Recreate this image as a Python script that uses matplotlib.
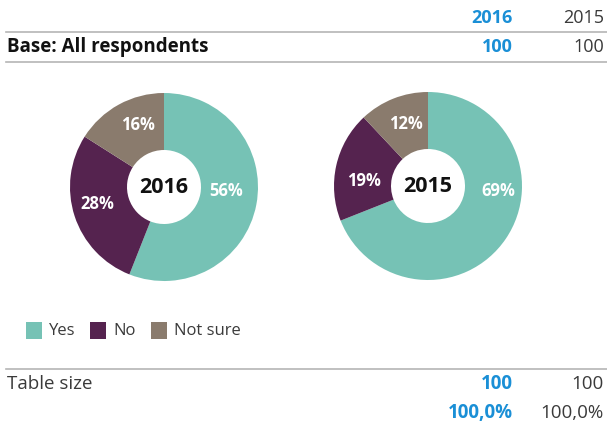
import matplotlib.pyplot as plt

years = ['2016', '2015']
categories = ['Yes', 'No', 'Not sure']
shares_2016 = [56, 28, 16]
shares_2015 = [69, 19, 12]
base_counts = [100, 100]
table_sizes = [100, 100]
table_pcts = ['100,0%', '100,0%']

colors = ['#76c2b5', '#55234f', '#8a7b6d']
blue = '#1a8fd6'
grey_line = '#b5b5b5'
dark = '#3a3a3a'

# label offsets (px) from each donut centre
label_offsets = [
    [(62, 4), (-67, 17), (-26, -62)],
    [(70, 5), (-64, -5), (-22, -62)],
]

W, H = 607, 423
plt.rcParams['font.family'] = ['Open Sans', 'DejaVu Sans']

fig = plt.figure(figsize=(W / 100, H / 100), dpi=100)
ax = fig.add_axes([0, 0, 1, 1])


def Y(y):
    # pixel rows counted from the top
    return H - y


col_x = [513, 604]

# donuts
centers = [(164, 187), (428, 186)]
radius = 94
for (cx, cy), yr, vals, offs in zip(centers, years, [shares_2016, shares_2015], label_offsets):
    ax.pie(vals, colors=colors, startangle=90, counterclock=False,
           center=(cx, Y(cy)), radius=radius, frame=True,
           wedgeprops=dict(width=radius - 37, linewidth=0))
    for v, (dx, dy) in zip(vals, offs):
        ax.text(cx + dx, Y(cy + dy), f'{v}%', ha='center', va='center',
                fontsize=12, color='white', fontweight='bold')
    ax.text(cx, Y(cy), yr, ha='center', va='center', fontsize=15.5, fontweight='bold', color='#111111')

ax.set_xlim(0, W)
ax.set_ylim(0, H)
ax.set_aspect('equal')
ax.axis('off')

# header rows
for i, yr in enumerate(years):
    c = blue if i == 0 else dark
    fw = 'bold' if i == 0 else 'normal'
    ax.text(col_x[i], Y(18), yr, ha='right', va='center', fontsize=13, color=c, fontweight=fw)
    ax.text(col_x[i], Y(47), str(base_counts[i]), ha='right', va='center', fontsize=13, color=c, fontweight=fw)
ax.plot([6, W], [Y(32), Y(32)], color=grey_line, lw=1.2)
ax.text(7, Y(47), 'Base: All respondents', ha='left', va='center', fontsize=13.5, fontweight='bold', color='#111111')
ax.plot([6, W], [Y(62), Y(62)], color=grey_line, lw=1.2)

# legend
leg_x = [26, 90, 151]
for x, c, lab in zip(leg_x, colors, categories):
    ax.add_patch(plt.Rectangle((x, Y(339)), 16, 17, color=c, lw=0))
    ax.text(x + 23, Y(331), lab, ha='left', va='center', fontsize=12, color=dark)

# footer rows
ax.plot([6, W], [Y(369), Y(369)], color=grey_line, lw=1.2)
ax.text(7, Y(384), 'Table size', ha='left', va='center', fontsize=13.5, color=dark)
for i in range(2):
    c = blue if i == 0 else dark
    fw = 'bold' if i == 0 else 'normal'
    ax.text(col_x[i], Y(384), str(table_sizes[i]), ha='right', va='center', fontsize=13.5, color=c, fontweight=fw)
    ax.text(col_x[i], Y(413), table_pcts[i], ha='right', va='center', fontsize=13.5, color=c, fontweight=fw)

fig.savefig('out.png', dpi=100)
